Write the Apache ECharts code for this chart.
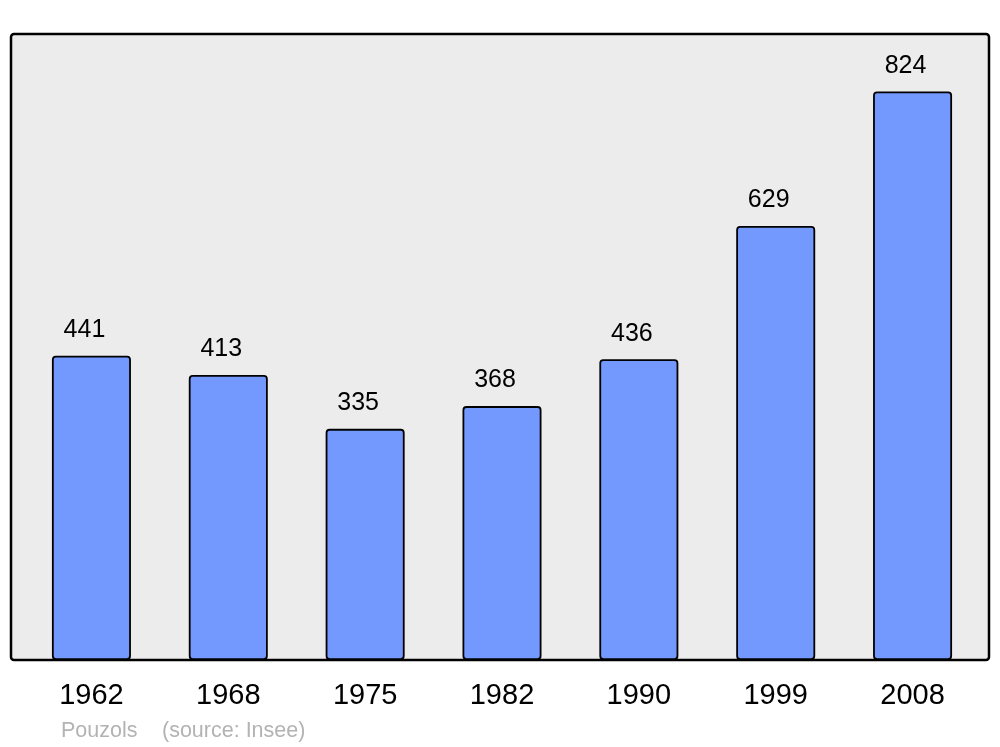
<!DOCTYPE html>
<html>
<head>
<meta charset="utf-8">
<script src="https://cdn.jsdelivr.net/npm/echarts@6/dist/echarts.min.js"></script>
<style>html,body{margin:0;padding:0;background:#fff;}#c{width:1000px;height:747px;}</style>
</head>
<body>
<div id="c"></div>
<script>
const years = ['1962','1968','1975','1982','1990','1999','2008'];
const population = [441, 413, 335, 368, 436, 629, 824];
const townName = 'Pouzols';
const sourceText = '(source: Insee)';

const chart = echarts.init(document.getElementById('c'));
const FONT = 'Liberation Sans, Arial, sans-serif';
chart.setOption({
  animation: false,
  backgroundColor: '#ffffff',
  graphic: [
    { type: 'rect', shape: { x: 11, y: 34, width: 978, height: 626, r: 3 },
      style: { fill: '#ececec', stroke: '#000', lineWidth: 2.5 }, z: -10 },
    { type: 'text', left: 61, top: 720, style: { text: townName, fill: '#b3b3b3', font: '21.5px ' + FONT } },
    { type: 'text', left: 162, top: 720, style: { text: sourceText, fill: '#b3b3b3', font: '21.5px ' + FONT } }
  ],
  grid: { left: 23, right: 19, top: 39, bottom: 87 },
  xAxis: {
    type: 'category', data: years,
    axisLine: { show: false }, axisTick: { show: false },
    axisLabel: { color: '#000', fontSize: 29, fontFamily: FONT, margin: 21 }
  },
  yAxis: { type: 'value', min: 0, max: 900, show: false, splitLine: { show: false } },
  series: [{
    type: 'bar', data: population, barWidth: 79,
    itemStyle: { color: '#7399ff', borderColor: '#000', borderWidth: 1.8, borderRadius: 3 },
    label: { show: true, position: 'top', distance: 13, offset: [-7, 0], color: '#000', fontSize: 25, fontFamily: FONT }
  }]
});
</script>
</body>
</html>
